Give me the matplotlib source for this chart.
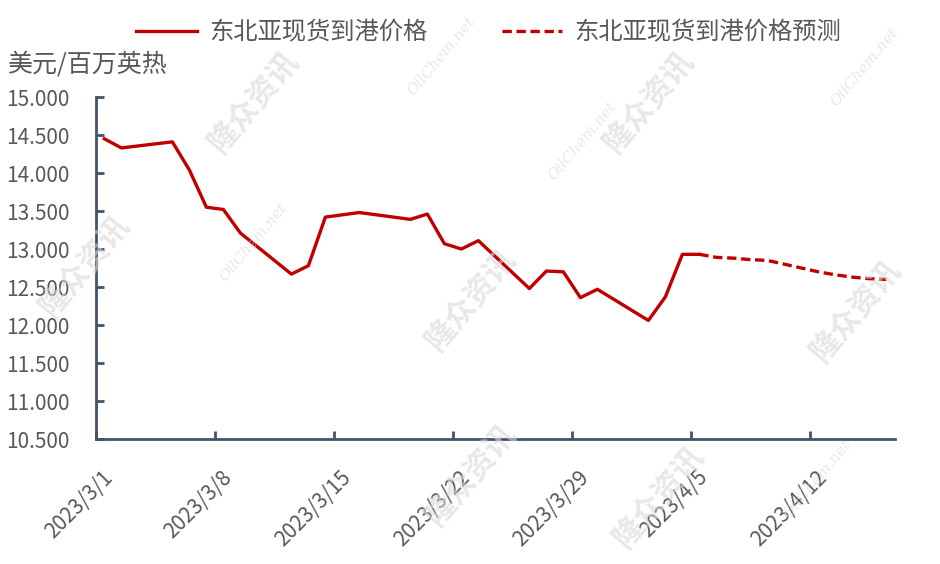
import numpy as np
import pandas as pd
import matplotlib
matplotlib.use('Agg')
import matplotlib.pyplot as plt
import matplotlib.dates as mdates
import matplotlib.transforms as mtransforms
from matplotlib.ticker import FuncFormatter, MultipleLocator

plt.rcParams['font.family'] = ['Noto Sans CJK SC', 'DejaVu Sans']

# 东北亚现货到港价格 (美元/百万英热)
actual_dates = ['2023-03-01', '2023-03-02', '2023-03-05', '2023-03-06', '2023-03-07',
                '2023-03-08', '2023-03-09', '2023-03-12', '2023-03-13', '2023-03-14',
                '2023-03-16', '2023-03-19', '2023-03-20', '2023-03-21', '2023-03-22',
                '2023-03-23', '2023-03-26', '2023-03-27', '2023-03-28', '2023-03-29',
                '2023-03-30', '2023-04-02', '2023-04-03', '2023-04-04', '2023-04-05']
actual_vals = [14.45, 14.33, 14.41, 14.04, 13.55,
               13.52, 13.21, 12.67, 12.78, 13.42,
               13.48, 13.39, 13.46, 13.07, 13.00,
               13.11, 12.48, 12.71, 12.70, 12.36,
               12.47, 12.06, 12.37, 12.93, 12.93]

# 预测
fc_dates = ['2023-04-05', '2023-04-06', '2023-04-07', '2023-04-08', '2023-04-09',
            '2023-04-10', '2023-04-11', '2023-04-12', '2023-04-13', '2023-04-14',
            '2023-04-15', '2023-04-16']
fc_vals = [12.93, 12.89, 12.88, 12.86, 12.85, 12.80, 12.75, 12.70, 12.66, 12.63, 12.61, 12.60]

tick_dates = ['2023-03-01', '2023-03-08', '2023-03-15', '2023-03-22',
              '2023-03-29', '2023-04-05', '2023-04-12']

red = '#C00000'
axis_col = '#44546A'
txt_col = '#595959'

fig = plt.figure(figsize=(9.4, 5.64), dpi=100)
ax = fig.add_axes([0.102, 0.2216, 0.850, 0.6064])

half = pd.Timedelta(hours=12)
xa = pd.to_datetime(actual_dates) + half
xf = pd.to_datetime(fc_dates) + half

l1, = ax.plot(xa, actual_vals, color=red, lw=2.4, solid_joinstyle='round')
l2, = ax.plot(xf, fc_vals, color=red, lw=2.4, ls=(0, (2.8, 1.4)))

ax.set_xlim(pd.Timestamp('2023-03-01'), pd.Timestamp('2023-04-17'))
ax.set_ylim(10.5, 15.0)
ax.yaxis.set_major_locator(MultipleLocator(0.5))
ax.yaxis.set_major_formatter(FuncFormatter(lambda v, p: '%.3f' % v))
ax.set_xticks(pd.to_datetime(tick_dates))
ax.xaxis.set_major_formatter(FuncFormatter(
    lambda v, p: '%d/%d/%d' % (mdates.num2date(v).year, mdates.num2date(v).month, mdates.num2date(v).day)))

for s in ['top', 'right']:
    ax.spines[s].set_visible(False)
for s in ['left', 'bottom']:
    ax.spines[s].set_color(axis_col)
    ax.spines[s].set_linewidth(2)

ax.tick_params(axis='both', direction='in', length=6, width=2, color=axis_col,
               labelsize=15, labelcolor=txt_col)
ax.tick_params(axis='y', pad=19)
ax.tick_params(axis='x', pad=8)
shift = mtransforms.ScaledTranslation(6 / 100, -16 / 100, fig.dpi_scale_trans)
for lab in ax.get_xticklabels():
    lab.set_rotation(45)
    lab.set_ha('right')
    lab.set_rotation_mode('anchor')
    lab.set_transform(lab.get_transform() + shift)

fig.text(0.009, 0.885, '美元/百万英热', fontsize=18, color=txt_col, ha='left', va='center')

leg = fig.legend([l1, l2], ['东北亚现货到港价格', '东北亚现货到港价格预测'],
                 loc='upper center', bbox_to_anchor=(0.52, 1.005), ncol=2, frameon=False,
                 fontsize=17.5, handlelength=2.5, columnspacing=3.05, handletextpad=0.5)
for t in leg.get_texts():
    t.set_color(txt_col)

# watermarks
wm = [(0.27, 0.82), (0.69, 0.82), (0.50, 0.47), (0.91, 0.45), (0.09, 0.53),
      (0.70, 0.12), (0.50, 0.16)]
for x, y in wm:
    fig.text(x, y, '隆众资讯', fontsize=22, fontweight='bold', color='#d9d9d9', alpha=0.6,
             rotation=50, ha='center', va='center', zorder=0)
wm2 = [(0.47, 0.90), (0.92, 0.88), (0.27, 0.57), (0.62, 0.75), (0.87, 0.15)]
for x, y in wm2:
    fig.text(x, y, 'OilChem.net', fontsize=11, color='#d9d9d9', alpha=0.6, family='DejaVu Serif',
             style='italic', rotation=50, ha='center', va='center', zorder=0)

fig.savefig('out.png', dpi=100)
